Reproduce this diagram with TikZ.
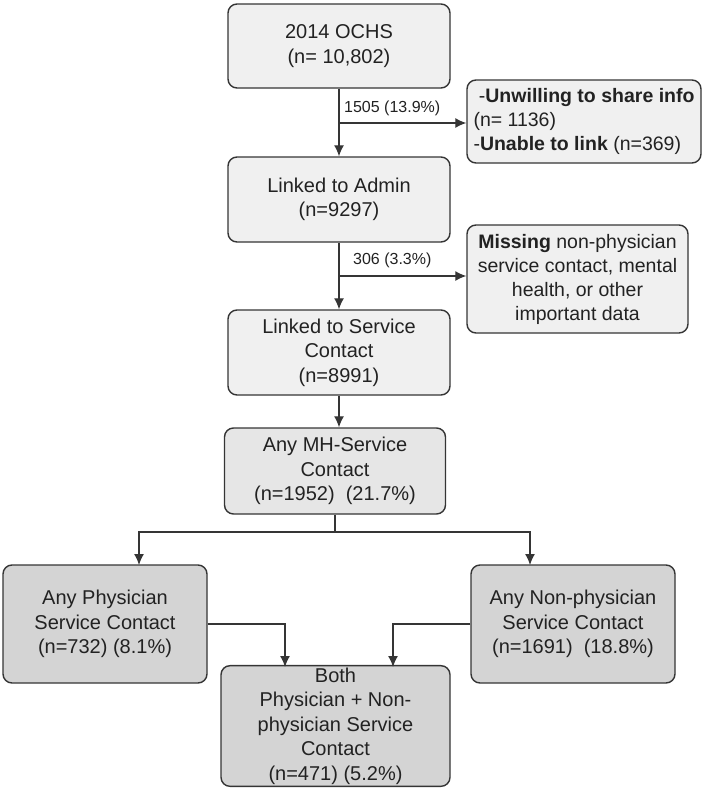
\documentclass[tikz,border=0pt]{standalone}
\usepackage{fontspec}
\setmainfont{Liberation Sans}
\usetikzlibrary{arrows.meta}
\definecolor{topfill}{HTML}{F0F0F0}
\definecolor{midfill}{HTML}{E6E6E6}
\definecolor{lowfill}{HTML}{D4D4D4}
\definecolor{edge}{HTML}{353535}
\definecolor{ink}{HTML}{222222}
\begin{document}
\begin{tikzpicture}[x=1pt,y=-1pt,
box/.style={draw=edge,line width=1.4pt,rounded corners=9pt,fill=topfill,align=center,
  text=ink,inner sep=2pt,font=\fontsize{20}{24.5}\selectfont},
mhbox/.style={box,fill=midfill},
lowbox/.style={box,fill=lowfill},
excl/.style={box,font=\fontsize{19.5}{24}\selectfont},
count/.style={anchor=south west,inner sep=0pt,text=ink,font=\fontsize{16}{18}\selectfont},
flow/.style={draw=edge,line width=1.3pt},
arrow/.style={flow,-{Latex[length=11pt,width=10pt]}},
]
\useasboundingbox (0,0) rectangle (708,790);
%main column
\node[box,minimum width=222,minimum height=84](ochs)at(339,46){2014 OCHS\\(n= 10,802)};
\node[box,minimum width=222,minimum height=85](admin)at(339,199.5){Linked to Admin\\(n=9297)};
\node[box,minimum width=222,minimum height=85](service)at(339,352.5){Linked to Service\\Contact\\(n=8991)};
\node[mhbox,minimum width=221,minimum height=86](mh)at(335,471){Any MH-Service\\Contact\\(n=1952)\ \ (21.7\%)};
%exclusions
\node[excl,align=left,minimum width=234,minimum height=83](drop1)at(584,121.5){\ -\textbf{Unwilling to share info}\\(n= 1136)\\-\textbf{Unable to link} (n=369)};
\node[excl,minimum width=221,minimum height=108](drop2)at(577.5,279){\textbf{Missing} non-physician\\service contact, mental\\health, or other\\important data};
%split by provider
\node[lowbox,minimum width=204,minimum height=118](phys)at(105,624){Any Physician\\Service Contact\\(n=732) (8.1\%)};
\node[lowbox,minimum width=204,minimum height=118](nonphys)at(573,624){Any Non-physician\\Service Contact\\(n=1691)\ \ (18.8\%)};
\node[lowbox,minimum width=229,minimum height=118](both)at(335.5,726){Both\\Physician + Non-\\physician Service\\Contact\\(n=471) (5.2\%)};

%arrows down the column
\draw[arrow](ochs)--(admin);
\draw[arrow](admin)--(service);
\draw[arrow](service.south)--(service.south|-mh.north);
%side arrows
\coordinate(split1)at(339,123);
\coordinate(split2)at(339,276);
\draw[arrow](split1)--(split1-|drop1.west);
\draw[arrow](split2)--(split2-|drop2.west);
\node[count](cut1)at(344,116){1505 (13.9\%)};
\node[count](cut2)at(353,268){306 (3.3\%)};
%fork
\coordinate(fork)at(335,532);
\coordinate(physin)at(139,565);
\coordinate(nonin)at(530,565);
\draw[flow](mh.south)--(fork);
\draw[arrow](fork)-|(physin);
\draw[arrow](fork)-|(nonin);
%join
\coordinate(bothl)at(285,667);
\coordinate(bothr)at(393,667);
\draw[arrow](phys.east)-|(bothl);
\draw[arrow](nonphys.west)-|(bothr);
\end{tikzpicture}
\end{document}
